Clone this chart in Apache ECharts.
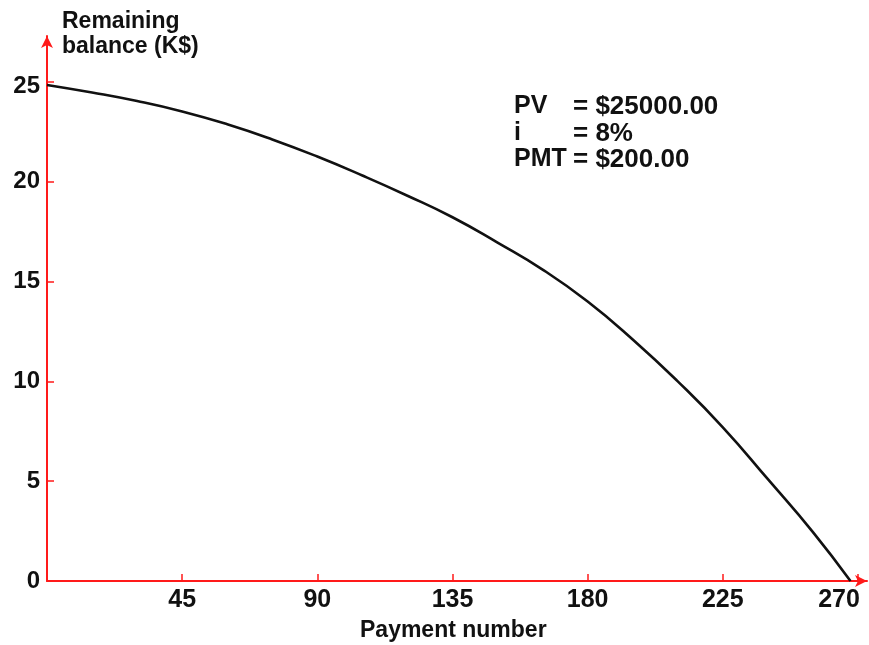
<!DOCTYPE html>
<html>
<head>
<meta charset="utf-8">
<script src="https://cdn.jsdelivr.net/npm/echarts@6/dist/echarts.min.js"></script>
<style>
  html, body { margin: 0; padding: 0; background: #fff; }
  #main { width: 869px; height: 645px; }
</style>
</head>
<body>
<div id="main"></div>
<script>
// payment number vs remaining balance (K$)
const payments = [0, 15, 30, 45, 60, 75, 90, 105, 120, 135, 150, 165, 180, 195, 210, 225, 240, 255, 267.5];
const balance  = [24.85, 24.47, 24.04, 23.52, 22.88, 22.12, 21.26, 20.31, 19.3, 18.22, 16.95, 15.6, 14.0, 12.1, 10.0, 7.7, 5.1, 2.45, 0];
const xTicks   = [45, 90, 135, 180, 225, 270];
const yTicks   = [0, 5, 10, 15, 20, 25];
const noteKeys = ['PV', 'i', 'PMT'];
const noteVals = ['= $25000.00', '= 8%', '= $200.00'];

const FONT = '"Liberation Sans", Arial, sans-serif';
const RED = '#ff1a1a';
const INK = '#111';

let chart = echarts.init(document.getElementById('main'));

let data = [];
payments.forEach((p, i) => {
    data.push([p, balance[i]]);
});

let graphics = [
    { type: 'text', left: 62, top: 9, style: { text: 'Remaining\nbalance (K$)', font: 'bold 23px ' + FONT, fill: INK, lineHeight: 25 } },
    { type: 'text', left: 360, top: 619, style: { text: 'Payment number', font: 'bold 23px ' + FONT, fill: INK } }
];
noteKeys.forEach((k, i) => {
    graphics.push({ type: 'text', left: 514, top: 94 + i * 26.5, style: { text: k, font: 'bold 25px ' + FONT, fill: INK } });
    graphics.push({ type: 'text', left: 573, top: 94 + i * 26.5, style: { text: noteVals[i], font: 'bold 26px ' + FONT, fill: INK } });
});

// the printed 270 sits left of its tick, the printed 25 a bit low
let labelRich = {
    l: { padding: [0, 38, 0, 0], fontSize: 25, fontWeight: 'bold', fontFamily: FONT, color: INK },
    d: { padding: [8, 0, 0, 0], fontSize: 24, fontWeight: 'bold', fontFamily: FONT, color: INK }
};

let option = {
    animation: false,
    grid: { left: 47, top: 36, width: 820, height: 545, containLabel: false, outerBoundsMode: 'none' },
    xAxis: {
        type: 'value',
        min: 0,
        max: 273,
        splitLine: { show: false },
        axisLine: { lineStyle: { color: RED, width: 2 }, symbol: ['none', 'arrow'], symbolSize: [9, 12] },
        axisTick: { inside: true, length: 7, lineStyle: { color: RED, width: 1.5 }, customValues: xTicks },
        axisLabel: {
            customValues: xTicks,
            margin: 7,
            color: INK,
            fontSize: 25,
            fontWeight: 'bold',
            fontFamily: FONT,
            rich: labelRich,
            formatter: (v) => v === 270 ? '{l|270}' : String(v)
        }
    },
    yAxis: {
        type: 'value',
        min: 0,
        max: 27.3,
        splitLine: { show: false },
        axisLine: { lineStyle: { color: RED, width: 2 }, symbol: ['none', 'arrow'], symbolSize: [9, 12] },
        axisTick: { inside: true, length: 7, lineStyle: { color: RED, width: 1.5 }, customValues: yTicks.slice(1) },
        axisLabel: {
            customValues: yTicks,
            margin: 7,
            color: INK,
            fontSize: 24,
            fontWeight: 'bold',
            fontFamily: FONT,
            rich: labelRich,
            formatter: (v) => v === 25 ? '{d|25}' : String(v)
        }
    },
    series: [{
        type: 'line',
        data: data,
        smooth: true,
        showSymbol: false,
        lineStyle: { color: INK, width: 2.6 },
        z: 3
    }],
    graphic: graphics
};

chart.setOption(option);
</script>
</body>
</html>
